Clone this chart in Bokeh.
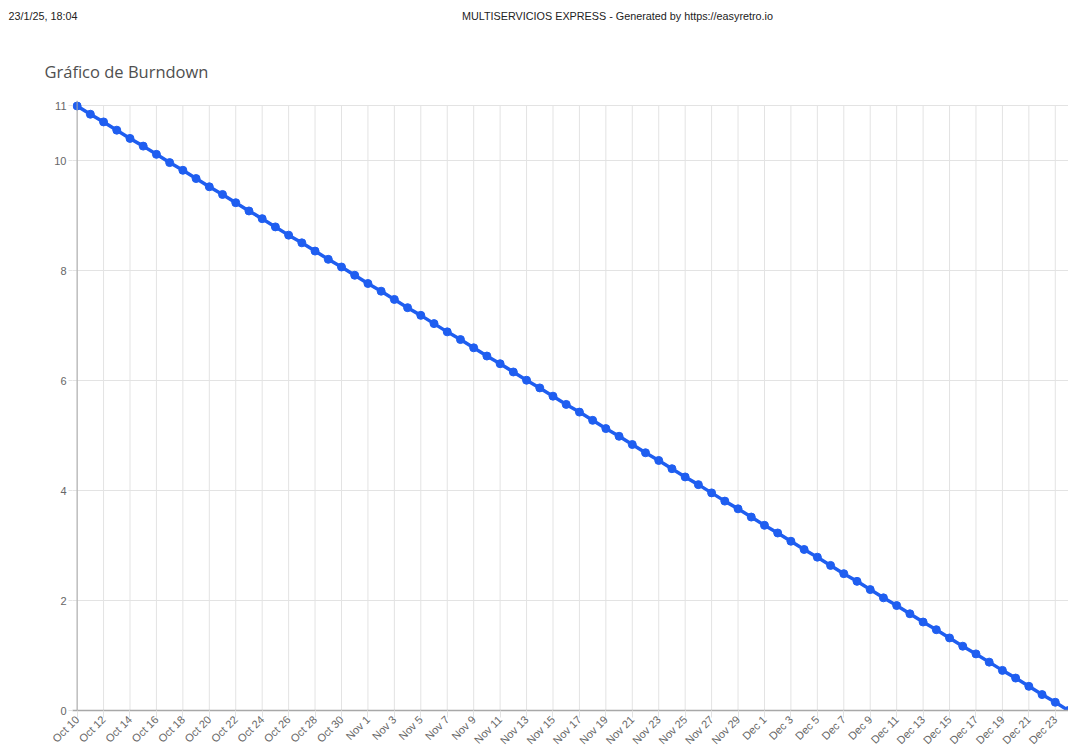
import math
import pandas as pd
from bokeh.plotting import figure
from bokeh.layouts import column
from bokeh.models import Range1d, FixedTicker, Span
from bokeh.core.properties import value
from bokeh.embed import file_html
from bokeh.resources import INLINE

# ---------------- data ----------------
days = pd.date_range("2024-10-10", "2024-12-24")  # one point per day
remaining = [11.00, 10.85, 10.71, 10.56, 10.41, 10.27, 10.12, 9.97, 9.83, 9.68,
             9.53, 9.39, 9.24, 9.09, 8.95, 8.80, 8.65, 8.51, 8.36, 8.21,
             8.07, 7.92, 7.77, 7.63, 7.48, 7.33, 7.19, 7.04, 6.89, 6.75,
             6.60, 6.45, 6.31, 6.16, 6.01, 5.87, 5.72, 5.57, 5.43, 5.28,
             5.13, 4.99, 4.84, 4.69, 4.55, 4.40, 4.25, 4.11, 3.96, 3.81,
             3.67, 3.52, 3.37, 3.23, 3.08, 2.93, 2.79, 2.64, 2.49, 2.35,
             2.20, 2.05, 1.91, 1.76, 1.61, 1.47, 1.32, 1.17, 1.03, 0.88,
             0.73, 0.59, 0.44, 0.29, 0.15, 0.00]
x_tick_labels = ["Oct 10", "Oct 12", "Oct 14", "Oct 16", "Oct 18", "Oct 20", "Oct 22",
                 "Oct 24", "Oct 26", "Oct 28", "Oct 30",
                 "Nov 1", "Nov 3", "Nov 5", "Nov 7", "Nov 9", "Nov 11", "Nov 13",
                 "Nov 15", "Nov 17", "Nov 19", "Nov 21", "Nov 23", "Nov 25",
                 "Nov 27", "Nov 29",
                 "Dec 1", "Dec 3", "Dec 5", "Dec 7", "Dec 9", "Dec 11", "Dec 13",
                 "Dec 15", "Dec 17", "Dec 19", "Dec 21", "Dec 23"]
y_ticks = [0, 2, 4, 6, 8, 10, 11]
title_text = "Gráfico de Burndown"
header_left = "23/1/25, 18:04"
header_center = "MULTISERVICIOS EXPRESS - Generated by https://easyretro.io"

# ---------------- derived ----------------
day_idx = [(d - days[0]).days for d in days]
label_dates = [pd.Timestamp(f"{lbl} 2024") for lbl in x_tick_labels]
x_ticks = [(d - days[0]).days for d in label_dates]

FONT = "Liberation Sans"
GRID = "#e3e3e3"
AXIS = "#a8a8a8"
BLUE = "#1f5ef0"
W = 1068
TOP_H = 92

# ---------------- header strip (page header + chart title) ----------------
top = figure(width=W, height=TOP_H, output_backend="svg", toolbar_location=None,
             x_range=Range1d(0, W), y_range=Range1d(TOP_H, 0),
             x_axis_location=None, y_axis_location=None,
             min_border=0, min_border_left=0, min_border_right=0,
             min_border_top=0, min_border_bottom=0)
top.frame_align = False
top.outline_line_color = None
top.grid.visible = False
top.text(x=[8], y=[15], text=[header_left], text_align="left", text_baseline="middle",
         text_font=value(FONT), text_font_size="10.8px", text_color="#222222")
top.text(x=[617], y=[15], text=[header_center], text_align="center", text_baseline="middle",
         text_font=value(FONT), text_font_size="10.8px", text_color="#222222")
top.text(x=[44], y=[71], text=[title_text], text_align="left", text_baseline="middle",
         text_font=value("Open Sans"), text_font_size="16.5px", text_color="#4f4f4f")

# ---------------- main chart ----------------
p = figure(width=W, height=755 - TOP_H, output_backend="svg", toolbar_location=None,
           x_range=Range1d(-0.35, 75.0), y_range=Range1d(0, 11.1),
           min_border_left=72, min_border_right=0, min_border_top=8,
           min_border_bottom=45)
p.frame_align = False
p.outline_line_color = None

# grids
p.xgrid.visible = False
p.ygrid.ticker = FixedTicker(ticks=y_ticks)
p.ygrid.grid_line_color = GRID
p.segment(x0=x_ticks, y0=[0] * len(x_ticks), x1=x_ticks, y1=[11] * len(x_ticks),
          line_color=GRID, line_width=1)

# y axis
p.yaxis.ticker = FixedTicker(ticks=y_ticks)
p.yaxis.axis_line_color = None
p.yaxis.major_tick_line_color = GRID
p.yaxis.major_tick_out = 4
p.yaxis.major_tick_in = 0
p.yaxis.minor_tick_line_color = None
p.yaxis.major_label_standoff = 2
p.yaxis.major_label_text_font = FONT
p.yaxis.major_label_text_font_size = "11px"
p.yaxis.major_label_text_color = "#666666"
p.add_layout(Span(location=0, dimension="height", line_color=AXIS, line_width=1))

# x axis
p.xaxis.ticker = FixedTicker(ticks=x_ticks)
p.xaxis.major_label_overrides = {t: lbl for t, lbl in zip(x_ticks, x_tick_labels)}
p.xaxis.major_label_orientation = math.pi / 4
p.xaxis.axis_line_color = AXIS
p.xaxis.axis_line_width = 1.5
p.xaxis.major_tick_line_color = GRID
p.xaxis.major_tick_out = 7
p.xaxis.major_tick_in = 0
p.xaxis.minor_tick_line_color = None
p.xaxis.major_label_standoff = 0
p.xaxis.major_label_text_font = FONT
p.xaxis.major_label_text_font_size = "11px"
p.xaxis.major_label_text_color = "#666666"

# data
p.line(day_idx, remaining, line_color=BLUE, line_width=3.5)
p.scatter(day_idx, remaining, size=8, fill_color=BLUE, line_color=BLUE)

layout = column(top, p, spacing=0)
open("out.html", "w").write(file_html(layout, INLINE))
